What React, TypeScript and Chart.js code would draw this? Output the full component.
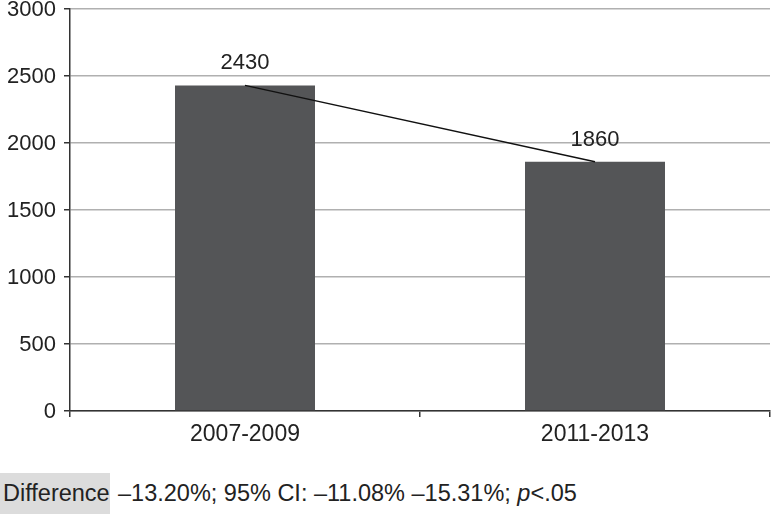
import React, { useEffect, useRef } from "react";
import { Chart, registerables } from "chart.js";

Chart.register(...registerables);

const categories = ["2007-2009", "2011-2013"];
const values = [2430, 1860];
const yTicks = [0, 500, 1000, 1500, 2000, 2500, 3000];
const diffLabel = "Difference";
const diffText = "\u201313.20%; 95% CI: \u201311.08% \u201315.31%; ";
const diffP = "p";
const diffTail = "<.05";

const FONT = "'Liberation Sans', Arial, Helvetica, sans-serif";
const SHIFT = 10;
const CANVAS_H = 460 + SHIFT;

export default function App() {
  const ref = useRef<HTMLCanvasElement | null>(null);

  useEffect(() => {
    if (!ref.current) return;
    const valueLabels = {
      id: "valueLabels",
      afterDatasetsDraw(chart: any) {
        const ctx = chart.ctx;
        const meta = chart.getDatasetMeta(0);
        ctx.save();
        ctx.font = `22px ${FONT}`;
        ctx.fillStyle = "#222";
        ctx.textAlign = "center";
        ctx.textBaseline = "middle";
        meta.data.forEach((el: any, i: number) => {
          ctx.fillText(String(values[i]), el.x, el.y - 22);
        });
        ctx.restore();
      },
    };
    const chart = new Chart(ref.current, {
      type: "bar",
      data: {
        labels: categories,
        datasets: [
          {
            type: "bar",
            data: values,
            backgroundColor: "#545557",
            barPercentage: 0.4,
            categoryPercentage: 1,
            order: 2,
          },
          {
            type: "line",
            data: values,
            borderColor: "#111",
            borderWidth: 1.5,
            pointRadius: 0,
            fill: false,
            order: 1,
          } as any,
        ],
      },
      options: {
        animation: false,
        responsive: false,
        maintainAspectRatio: false,
        layout: { padding: { top: 9 + SHIFT, right: 1, left: 0, bottom: 0 } },
        plugins: { legend: { display: false }, tooltip: { enabled: false } },
        scales: {
          x: {
            offset: true,
            grid: {
              offset: true,
              drawOnChartArea: false,
              drawTicks: true,
              tickLength: 6,
              tickColor: "#333",
              lineWidth: 1.5,
            },
            border: { color: "#333", width: 1.5 },
            ticks: { color: "#222", font: { family: FONT, size: 23 }, padding: 4 },
            afterFit: (s: any) => {
              s.height = CANVAS_H - 411 - SHIFT;
              s.paddingLeft = 0;
              s.paddingRight = 0;
            },
          },
          y: {
            min: 0,
            max: 3000,
            afterBuildTicks: (s: any) => {
              s.ticks = yTicks.map((v) => ({ value: v }));
            },
            grid: {
              color: "#b0b0b0",
              lineWidth: 1.5,
              tickColor: "#333",
              tickLength: 6,
            },
            border: { color: "#333", width: 1.5 },
            ticks: {
              color: "#222",
              font: { family: FONT, size: 22 },
              padding: 8,
              labelOffset: 1,
              callback: (v: any) => String(v),
            },
            afterFit: (s: any) => {
              s.width = 70;
              s.paddingTop = 0;
              s.paddingBottom = 0;
            },
          },
        },
      } as any,
      plugins: [valueLabels],
    });
    return () => chart.destroy();
  }, []);

  return (
    <div
      style={{
        position: "fixed",
        left: 0,
        top: 0,
        width: 771,
        height: 514,
        background: "#fff",
        fontFamily: FONT,
        color: "#222",
        overflow: "hidden",
      }}
    >
      <canvas ref={ref} width={771} height={CANVAS_H} style={{ position: "absolute", left: 0, top: -SHIFT, width: 771, height: CANVAS_H }} />
      <div
        style={{
          position: "absolute",
          left: 0,
          top: 473,
          width: 110,
          height: 41,
          background: "#dcdcdc",
        }}
      />
      <div
        style={{
          position: "absolute",
          left: 3,
          top: 473,
          height: 41,
          lineHeight: "41px",
          fontSize: 23.5,
          whiteSpace: "nowrap",
        }}
      >
        {diffLabel}
      </div>
      <div
        style={{
          position: "absolute",
          left: 118,
          top: 473,
          height: 41,
          lineHeight: "41px",
          fontSize: 23.5,
          whiteSpace: "nowrap",
        }}
      >
        {diffText}
        <i>{diffP}</i>
        {diffTail}
      </div>
    </div>
  );
}
